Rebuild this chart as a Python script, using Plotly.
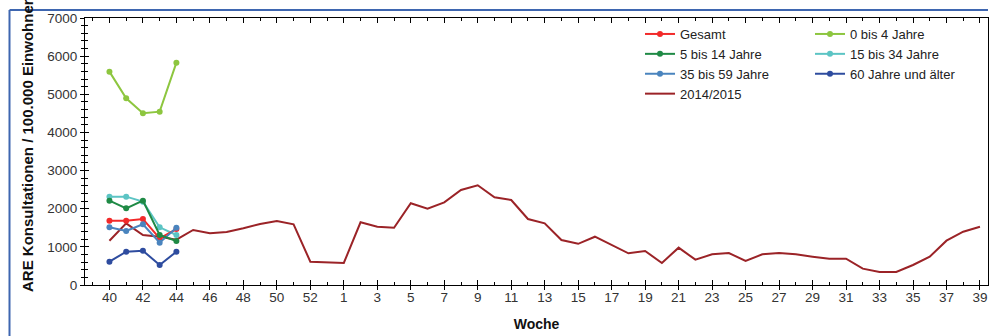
import plotly.graph_objects as go

# Calendar weeks of the season (40 .. 53, 1 .. 39)
weeks = list(range(40, 54)) + list(range(1, 40))

# Current season (first weeks only)
gesamt = [1686, 1686, 1730, 1224, 1468]
age_0_4 = [5594, 4895, 4501, 4545, 5829]
age_5_14 = [2211, 2011, 2211, 1311, 1154]
age_15_34 = [2316, 2316, 2185, 1513, 1311]
age_35_59 = [1513, 1416, 1592, 1110, 1503]
age_60 = [611, 873, 899, 524, 873]

# Previous season 2014/2015
prev_season = [1160, 1617, 1311, 1267, 1190, 1442, 1355, 1390, 1487, 1600, 1678, 1592,
               611, 603, 577, 1644, 1529, 1502, 2142, 2000, 2168, 2491, 2614, 2300,
               2229, 1730, 1618, 1180, 1080, 1266, 1049, 830, 891, 577, 979, 664,
               804, 839, 629, 804, 839, 804, 743, 690, 690, 428, 341, 341, 524, 743,
               1162, 1398, 1529]

tick_idx = list(range(0, len(weeks), 2))
tick_txt = [str(weeks[i]) for i in tick_idx]

FONT = "Liberation Sans, Arial, sans-serif"

fig = go.Figure()

fig.add_trace(go.Scatter(
    x=list(range(len(prev_season))), y=prev_season, name="2014/2015", mode="lines",
    line=dict(color="#9B2327", width=2), legend="legend", legendrank=4))

series = [
    ("Gesamt", gesamt, "#F22A2A", "legend", 1),
    ("0 bis 4 Jahre", age_0_4, "#8DC63F", "legend2", 1),
    ("5 bis 14 Jahre", age_5_14, "#1F8A45", "legend", 2),
    ("15 bis 34 Jahre", age_15_34, "#5CC4C4", "legend2", 2),
    ("35 bis 59 Jahre", age_35_59, "#4A84BE", "legend", 3),
    ("60 Jahre und älter", age_60, "#2E4C9F", "legend2", 3),
]
for k in [3, 1, 0, 4, 5, 2]:
    name, vals, col, leg, rank = series[k]
    fig.add_trace(go.Scatter(
        x=list(range(len(vals))), y=vals, name=name, mode="lines+markers",
        line=dict(color=col, width=2), marker=dict(color=col, size=6),
        legend=leg, legendrank=rank))

# helper trace for the second (tick-only) axes
fig.add_trace(go.Scatter(x=[None], y=[None], xaxis="x2", yaxis="y2",
                         showlegend=False, hoverinfo="skip"))

xr = [-1.46, 52.48]
yr = [0, 7000]

fig.update_layout(
    width=994, height=336,
    margin=dict(l=85, r=6, t=18, b=51),
    paper_bgcolor="white", plot_bgcolor="white",
    font=dict(family=FONT, size=13, color="#333333"),
    showlegend=True,
    xaxis=dict(
        range=xr, tickmode="array", tickvals=tick_idx, ticktext=tick_txt,
        ticks="inside", ticklen=5, tickcolor="black", tickwidth=1,
        showline=True, linecolor="black", linewidth=1, mirror="ticks",
        showgrid=False, zeroline=False,
        minor=dict(ticks="inside", ticklen=3, tickmode="linear", tick0=0, dtick=1,
                   tickcolor="black", showgrid=False),
        tickfont=dict(size=13.5, color="#333333"),
        title=dict(text="<b>Woche</b>", font=dict(size=14, color="#111111"), standoff=14),
    ),
    xaxis2=dict(
        range=xr, overlaying="x", anchor="y", side="bottom", matches="x",
        tickmode="array", tickvals=tick_idx, ticktext=[""] * len(tick_idx),
        showticklabels=False, ticks="outside", ticklen=4, tickcolor="black",
        showline=False, showgrid=False, zeroline=False,
    ),
    yaxis=dict(
        range=yr, tickmode="linear", tick0=0, dtick=1000,
        ticks="outside", ticklen=4, tickcolor="black",
        showline=True, linecolor="black", linewidth=1, mirror=True,
        showgrid=False, zeroline=False,
        minor=dict(ticks="outside", ticklen=3, dtick=200, tickcolor="black", showgrid=False),
        tickfont=dict(size=13.5, color="#333333"),
    ),
    yaxis2=dict(
        range=yr, overlaying="y", anchor="x", side="left", matches="y",
        tickmode="linear", tick0=0, dtick=1000, showticklabels=False,
        ticks="inside", ticklen=4, tickcolor="black",
        minor=dict(ticks="inside", ticklen=3, dtick=200, tickcolor="black", showgrid=False),
        showline=False, showgrid=False, zeroline=False,
    ),
    legend=dict(x=(640 - 85) / 903, y=(285 - 19) / 267, xanchor="left", yanchor="top",
                bgcolor="rgba(255,255,255,0)", font=dict(size=13, color="#222222"),
                tracegroupgap=0),
    legend2=dict(x=(810 - 85) / 903, y=(285 - 19) / 267, xanchor="left", yanchor="top",
                 bgcolor="rgba(255,255,255,0)", font=dict(size=13, color="#222222"),
                 tracegroupgap=0),
    annotations=[dict(
        text="<b>ARE Konsultationen / 100.000 Einwohner</b>", textangle=-90,
        xref="paper", yref="paper", x=(27 - 85) / 903, y=(285 - 146) / 267,
        xanchor="center", yanchor="middle", showarrow=False,
        font=dict(size=15, color="#111111"))],
    shapes=[
        dict(type="line", xref="paper", yref="paper",
             x0=(9.5 - 85) / 903, x1=(9.5 - 85) / 903, y0=(285 - 10) / 267, y1=(285 - 340) / 267,
             line=dict(color="#3E66B0", width=2)),
        dict(type="line", xref="paper", yref="paper",
             x0=(9.5 - 85) / 903, x1=1.0, y0=(285 - 10) / 267, y1=(285 - 10) / 267,
             line=dict(color="#3E66B0", width=2)),
    ],
)

fig.write_html("out.html", config={"displayModeBar": False},
               post_script="document.body.style.margin='0';document.body.style.padding='0';")
